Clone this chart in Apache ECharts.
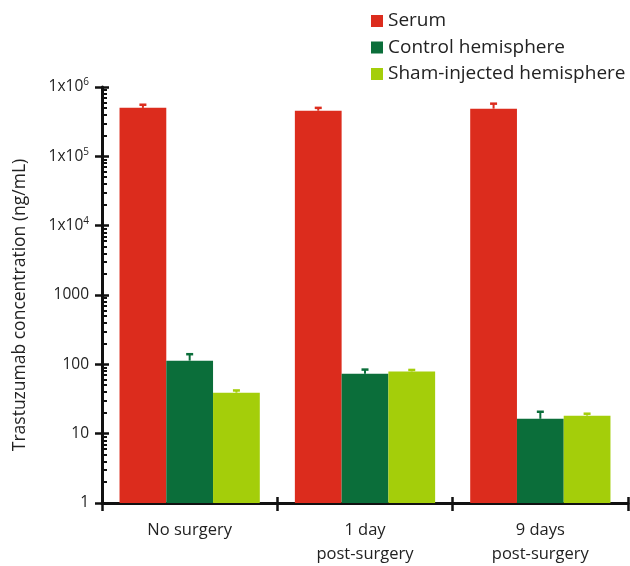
<!DOCTYPE html>
<html>
<head>
<meta charset="utf-8">
<script src="https://cdn.jsdelivr.net/npm/echarts@6/dist/echarts.min.js"></script>
<style>html,body{margin:0;padding:0;background:#fff}#c{width:630px;height:566px}</style>
</head>
<body>
<div id="c"></div>
<script>
const categories = ['No surgery', '1 day\npost-surgery', '9 days\npost-surgery'];
const seriesNames = ['Serum', 'Control hemisphere', 'Sham-injected hemisphere'];
const serum = [500000, 455000, 487000];
const serumUpper = [555000, 500000, 575000];
const control = [113, 73, 16.4];
const controlUpper = [140, 84, 20.7];
const sham = [39, 79, 18.2];
const shamUpper = [42, 83, 19.4];
const yTickLabels = {1:'1', 10:'10', 100:'100', 1000:'1000', 10000:'1x10{s|4}', 100000:'1x10{s|5}', 1000000:'1x10{s|6}'};

const colors = ['#DC2C1D', '#0B6E3A', '#A4CE0A'];
const FONT = 'Open Sans';
const values = [serum, control, sham];
const uppers = [serumUpper, controlUpper, shamUpper];

function errSeries(k) {
  return {
    type: 'custom',
    name: 'err' + k,
    xAxisIndex: 0, yAxisIndex: 0,
    data: values[k].map((v, i) => [i, uppers[k][i], v]),
    encode: {x: 0, y: 1},
    z: 3,
    renderItem: function (params, api) {
      const cat = api.value(0);
      const top = api.coord([cat, api.value(1)]);
      const base = api.coord([cat, api.value(2)]);
      const band = api.size([1, 0])[0];
      const bw = band * 0.8 / 3;
      const x = top[0] + (k - 1) * bw;
      return {
        type: 'group',
        children: [
          {type: 'line', shape: {x1: x, y1: base[1], x2: x, y2: top[1]}, style: {stroke: colors[k], lineWidth: 2}},
          {type: 'line', shape: {x1: x - 3.5, y1: top[1], x2: x + 3.5, y2: top[1]}, style: {stroke: colors[k], lineWidth: 2.5}}
        ]
      };
    }
  };
}

const chart = echarts.init(document.getElementById('c'), null, {renderer: 'canvas'});
chart.setOption({
  animation: false,
  textStyle: {fontFamily: FONT},
  grid: {left: 102, right: 2, top: 87, bottom: 63},
  legend: {
    orient: 'vertical', left: 366, top: 6,
    data: seriesNames,
    icon: 'rect', itemWidth: 12, itemHeight: 12, itemGap: 6.5,
    textStyle: {fontFamily: FONT, fontSize: 19, color: '#222', lineHeight: 20}
  },
  xAxis: [{
    type: 'category', data: categories, position: 'bottom',
    axisLine: {lineStyle: {color: '#111', width: 3}},
    axisTick: {show: true, length: 8, lineStyle: {color: '#111', width: 2.5}},
    axisLabel: {fontFamily: FONT, fontSize: 16.5, color: '#222', lineHeight: 24, margin: 15}
  }, {
    type: 'category', data: categories, position: 'bottom',
    axisLine: {show: false},
    axisTick: {show: true, inside: true, length: 6, lineStyle: {color: '#111', width: 2.5}},
    axisLabel: {show: false}
  }],
  yAxis: [{
    type: 'log', logBase: 10, min: 1, max: 1000000,
    name: 'Trastuzumab concentration (ng/mL)',
    nameLocation: 'middle', nameGap: 73,
    nameTextStyle: {fontFamily: FONT, fontSize: 17.5, color: '#222', padding: [0, 20, 0, 0]},
    axisLine: {show: true, lineStyle: {color: '#111', width: 3}},
    axisTick: {show: true, length: 7, lineStyle: {color: '#111', width: 2.5}},
    splitLine: {show: false},
    axisLabel: {
      fontFamily: FONT, fontSize: 15.5, color: '#222', margin: 13,
      formatter: v => yTickLabels[Math.round(v)] || '',
      rich: {s: {fontSize: 10, verticalAlign: 'top', padding: [0, 0, 9, 0], fontFamily: FONT, color: '#222'}}
    }
  }, {
    type: 'log', logBase: 10, min: 1, max: 1000000, position: 'left',
    axisLine: {show: false},
    axisTick: {show: true, inside: true, length: 7, lineStyle: {color: '#111', width: 2.5}},
    minorTick: {show: true, splitNumber: 9, length: 5, lineStyle: {color: '#111', width: 2}},
    axisLabel: {show: false},
    splitLine: {show: false}
  }],
  series: [
    {type: 'bar', name: seriesNames[0], data: serum, itemStyle: {color: colors[0]}, barGap: 0, barCategoryGap: '20%'},
    {type: 'bar', name: seriesNames[1], data: control, itemStyle: {color: colors[1]}, barGap: 0, barCategoryGap: '20%'},
    {type: 'bar', name: seriesNames[2], data: sham, itemStyle: {color: colors[2]}, barGap: 0, barCategoryGap: '20%'},
    errSeries(0), errSeries(1), errSeries(2)
  ]
});
</script>
</body>
</html>
